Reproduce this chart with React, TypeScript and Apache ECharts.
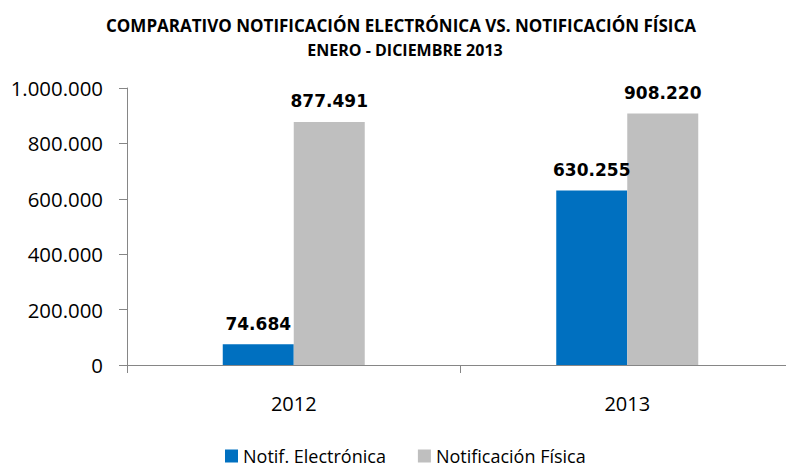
import React, { useEffect, useRef } from "react";
import * as echarts from "echarts";

const categories = ["2012", "2013"];
const electronica = [74684, 630255];
const fisica = [877491, 908220];
const seriesNames = ["Notif. Electrónica", "Notificación Física"];
const yTicks = { min: 0, max: 1000000, interval: 200000 };

const fmt = (v: number) => String(Math.round(v)).replace(/\B(?=(\d{3})+(?!\d))/g, ".");

export default function App() {
  const ref = useRef<HTMLDivElement>(null);
  useEffect(() => {
    document.body.style.margin = "0";
    const chart = echarts.init(ref.current!, null, { renderer: "svg" });
    const labelStyle = {
      show: true,
      position: "top" as const,
      distance: 12,
      fontFamily: "DejaVu Sans",
      fontWeight: "bold" as const,
      fontSize: 17,
      color: "#000",
      formatter: (p: any) => fmt(p.value),
    };
    chart.setOption({
      animation: false,
      title: [
        {
          text: "COMPARATIVO NOTIFICACIÓN ELECTRÓNICA VS. NOTIFICACIÓN FÍSICA",
          left: 396,
          top: 12,
          textAlign: "center",
          textStyle: { fontFamily: "Open Sans", fontWeight: "bold", fontSize: 17, color: "#000" },
        },
        {
          text: "ENERO - DICIEMBRE 2013",
          left: 400,
          top: 37,
          textAlign: "center",
          textStyle: { fontFamily: "Open Sans", fontWeight: "bold", fontSize: 16, color: "#000" },
        },
      ],
      legend: {
        top: 446,
        left: 225,
        padding: 0,
        icon: "rect",
        itemWidth: 13,
        itemHeight: 13,
        itemGap: 32,
        textStyle: { fontFamily: "Open Sans", fontSize: 18, color: "#000", lineHeight: 20 },
        data: seriesNames,
      },
      grid: { left: 127, top: 88, width: 667, height: 277, containLabel: false, outerBoundsMode: "none" },
      xAxis: {
        type: "category",
        data: categories,
        axisLine: { lineStyle: { color: "#868686", width: 1 } },
        axisTick: { show: true, length: 8, lineStyle: { color: "#868686" } },
        axisLabel: { fontFamily: "Open Sans", fontSize: 20, color: "#000", margin: 28 },
      },
      yAxis: {
        type: "value",
        min: yTicks.min,
        max: yTicks.max,
        interval: yTicks.interval,
        splitLine: { show: false },
        axisLine: { show: true, lineStyle: { color: "#868686", width: 1 } },
        axisTick: { show: true, length: 8, lineStyle: { color: "#868686" } },
        axisLabel: { fontFamily: "Open Sans", fontSize: 20.4, color: "#000", margin: 24, formatter: fmt },
      },
      series: [
        {
          name: seriesNames[0],
          type: "bar",
          data: electronica,
          barWidth: 71,
          barGap: "0%",
          itemStyle: { color: "#0070C0" },
          label: labelStyle,
        },
        {
          name: seriesNames[1],
          type: "bar",
          data: fisica,
          barWidth: 71,
          barGap: "0%",
          itemStyle: { color: "#BFBFBF" },
          label: labelStyle,
        },
      ],
    });
    return () => chart.dispose();
  }, []);
  return <div ref={ref} style={{ width: 786, height: 468 }} />;
}
